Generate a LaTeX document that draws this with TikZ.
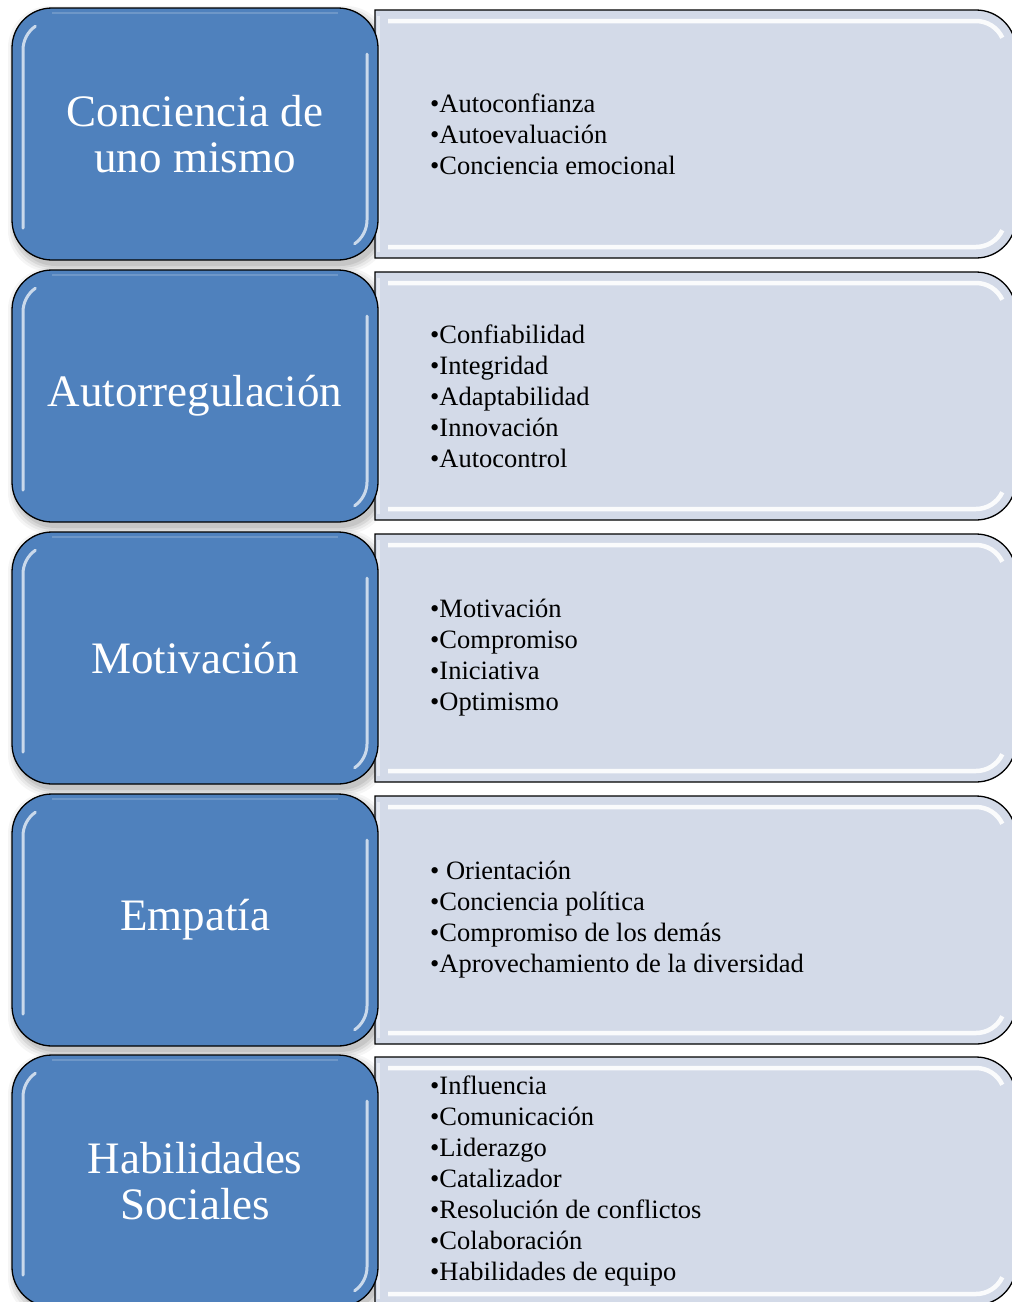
\documentclass[tikz,border=0pt]{standalone}
\usepackage{fontspec}
\setmainfont{Liberation Serif}
\definecolor{boxblue}{RGB}{79,129,189}
\definecolor{boxlav}{RGB}{211,218,232}
\tikzset{
  titlebox/.style={draw=black, line width=1.3pt, fill=boxblue, rounded corners=40pt,
    minimum width=366pt, minimum height=252pt, inner sep=0pt,
    text=white, align=center, font=\fontsize{45}{46}\selectfont},
  itembox/.style={draw=black, line width=1.3pt, fill=boxlav},
  itemtext/.style={anchor=west, align=left, inner sep=0pt, text=black,
    font=\fontsize{26.5}{31}\selectfont},
  glint/.style={white, line width=3pt, opacity=0.7, line cap=round},
  bevel/.style={white, line width=4.5pt, opacity=0.9, line cap=butt},
}
% one row: #1 row tag, #2 top edge (px from the top), #3 heading, #4 list
\newcommand\emorow[4]{%
  \pgfmathsetmacro\ty{-#2}%
  \pgfmathsetmacro\by{-#2-252}%
  \pgfmathsetmacro\cy{-#2-126}%
  \pgfmathsetmacro\rt{-#2-2}%
  \pgfmathsetmacro\rb{-#2-250}%
  % soft shadow under the heading box
  \foreach \s/\o in {7/0.04,5/0.05,3/0.07,1/0.08}{%
    \fill[black, opacity=\o, rounded corners=42pt]
      (12-\s+3, \ty+\s-5) rectangle (378+\s+3, \by-\s-5);
  }%
  % list panel, square on the left, rounded on the right
  \draw[itembox] (375,\rt) -- (976,\rt) arc[start angle=90,end angle=0,radius=40]
    -- (1016,\rb+40) arc[start angle=0,end angle=-90,radius=40] -- (375,\rb) -- cycle;
  \draw[bevel] (388,\rt-11) -- (976,\rt-11) arc[start angle=90,end angle=25,radius=29];
  \draw[bevel] (388,\rb+11) -- (976,\rb+11) arc[start angle=-90,end angle=-25,radius=29];
  \draw[white, line width=3pt, opacity=0.45] (378.5,\rt-6) -- (378.5,\rb+6);
  % heading box
  \node[titlebox] (t#1) at (195,\cy) {#3};
  \draw[glint] (23,\by+32) -- (23,\ty-42) arc[start angle=180,end angle=125,radius=29];
  \draw[glint] (367,\ty-46) -- (367,\by+40) arc[start angle=0,end angle=-55,radius=29];
  \draw[white, line width=2pt, opacity=0.18] (52,\ty-5) -- (338,\ty-5);
  % list text
  \node[itemtext] (i#1) at (430,\cy) {#4};
}
\begin{document}
\begin{tikzpicture}[x=1pt,y=1pt]
\useasboundingbox (0,0) rectangle (1012,-1302);
\fill[white] (0,0) rectangle (1012,-1302);
\clip (0,0) rectangle (1012,-1302);
\emorow{1}{8}{Conciencia de\\uno mismo}
  {•Autoconfianza\\•Autoevaluación\\•Conciencia emocional}
\emorow{2}{270}{Autorregulación}
  {•Confiabilidad\\•Integridad\\•Adaptabilidad\\•Innovación\\•Autocontrol}
\emorow{3}{532}{Motivación}
  {•Motivación\\•Compromiso\\•Iniciativa\\•Optimismo}
\emorow{4}{794}{Empatía}
  {• Orientación\\•Conciencia política\\•Compromiso de los demás\\•Aprovechamiento de la diversidad}
\emorow{5}{1055}{Habilidades\\Sociales}
  {•Influencia\\•Comunicación\\•Liderazgo\\•Catalizador\\•Resolución de conflictos\\•Colaboración\\•Habilidades de equipo}
\end{tikzpicture}
\end{document}
